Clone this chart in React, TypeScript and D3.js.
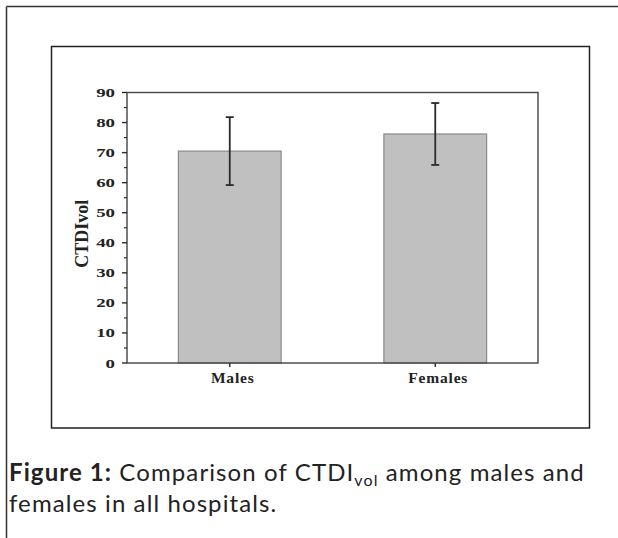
import React from "react";
import * as d3 from "d3";

const groups = ["Males", "Females"];
const means = [70.5, 76.2];
const sds = [11.3, 10.3];
const yTicks = [0, 10, 20, 30, 40, 50, 60, 70, 80, 90];

const W = 618;
const H = 538;

export default function App() {
    // plot area inside the inner frame
    const left = 127;
    const right = 538;
    const top = 92.5;
    const bottom = 363;

    const y = d3.scaleLinear().domain([0, 90]).range([bottom, top]);
    const x = d3
        .scaleBand()
        .domain(groups)
        .range([left, right])
        .paddingInner(0.5)
        .paddingOuter(0.25);

    const minorTicks = d3.range(5, 90, 10);
    const axisFont = "'Liberation Serif', 'Times New Roman', serif";
    const dark = "#2b2b2b";

    return (
        <svg
            width={W}
            height={H}
            style={{ position: "absolute", left: 0, top: 0, background: "#fff" }}
        >
            {/* outer page frame */}
            <line x1={6.5} y1={6.5} x2={W} y2={6.5} stroke="#333" strokeWidth={1.5} />
            <line x1={6.5} y1={6.5} x2={6.5} y2={H} stroke="#333" strokeWidth={1.5} />

            {/* inner figure box */}
            <rect x={51.5} y={46.5} width={538} height={381.5} fill="none" stroke="#222" strokeWidth={1.5} />

            {/* bars */}
            {groups.map((g, i) => (
                <rect
                    key={g}
                    x={x(g)}
                    y={y(means[i])}
                    width={x.bandwidth()}
                    height={y(0) - y(means[i])}
                    fill="#c0c0c0"
                    stroke="#8a8a8a"
                    strokeWidth={1.2}
                />
            ))}

            {/* error bars */}
            {groups.map((g, i) => {
                const cx = (x(g) as number) + x.bandwidth() / 2;
                const y1 = y(means[i] + sds[i]);
                const y2 = y(means[i] - sds[i]);
                return (
                    <g key={g} stroke={dark} strokeWidth={1.8}>
                        <line x1={cx} x2={cx} y1={y1} y2={y2} />
                        <line x1={cx - 4} x2={cx + 4} y1={y1} y2={y1} />
                        <line x1={cx - 4} x2={cx + 4} y1={y2} y2={y2} />
                    </g>
                );
            })}

            {/* plot frame */}
            <rect
                x={left}
                y={top}
                width={right - left}
                height={bottom - top}
                fill="none"
                stroke="#444"
                strokeWidth={1.4}
            />

            {/* y axis ticks */}
            {yTicks.map((t) => (
                <g key={t}>
                    <line x1={left - 5} x2={left} y1={y(t)} y2={y(t)} stroke={dark} strokeWidth={1.4} />
                    <text
                        transform={`translate(${left - 12},${y(t)}) scale(1.45,1)`}
                        dy="0.35em"
                        textAnchor="end"
                        fontFamily={axisFont}
                        fontWeight="bold"
                        fontSize={13}
                        fill="#222"
                    >
                        {t}
                    </text>
                </g>
            ))}
            {minorTicks.map((t) => (
                <line key={t} x1={left - 3} x2={left} y1={y(t)} y2={y(t)} stroke={dark} strokeWidth={1.2} />
            ))}

            {/* x axis ticks and labels */}
            {groups.map((g) => {
                const cx = (x(g) as number) + x.bandwidth() / 2;
                return (
                    <g key={g}>
                        <line x1={cx} x2={cx} y1={bottom} y2={bottom + 4} stroke={dark} strokeWidth={1.4} />
                        <text
                            x={cx + 3}
                            y={383}
                            textAnchor="middle"
                            fontFamily={axisFont}
                            fontWeight="bold"
                            fontSize={15.5}
                            letterSpacing={0.8}
                            fill="#222"
                        >
                            {g}
                        </text>
                    </g>
                );
            })}

            {/* y axis title */}
            <text
                transform={`translate(88,${(top + bottom) / 2 + 6}) rotate(-90)`}
                textAnchor="middle"
                fontFamily={axisFont}
                fontWeight="bold"
                fontSize={18}
                fill="#222"
            >
                CTDIvol
            </text>

            {/* caption */}
            <g fontFamily="Lato, 'Open Sans', sans-serif" fontSize={24} letterSpacing={1.1} fill="#222">
                <text x={9} y={481}>
                    <tspan fontWeight="bold">Figure 1:</tspan>
                    <tspan> Comparison of CTDI</tspan>
                    <tspan fontSize={16} dy={5}>vol</tspan>
                    <tspan dy={-5}> among males and</tspan>
                </text>
                <text x={9} y={512}>
                    females in all hospitals.
                </text>
            </g>
        </svg>
    );
}
